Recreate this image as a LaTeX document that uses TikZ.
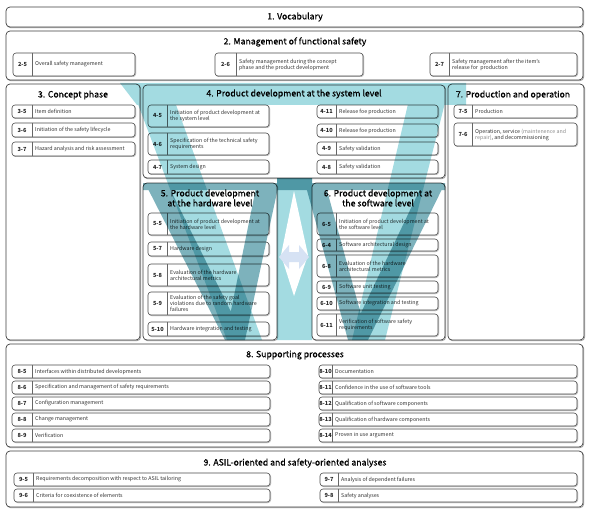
\documentclass[tikz,border=0pt]{standalone}
\usepackage{fontspec}
\setmainfont{Noto Sans CJK KR}
\newfontfamily\tfont[FakeBold=0.7]{Noto Sans CJK KR}
\definecolor{lteal}{RGB}{163,219,225}
\definecolor{dteal}{RGB}{125,178,188}
\definecolor{arrowblue}{RGB}{214,226,244}
\newcommand{\itembox}[8]{%
  \draw[subshadow] (#2+0.7,#3+0.7) rectangle (#4+0.7,#5+0.7);
  \draw[subframe] (#2,#3) rectangle (#4,#5);
  \draw[divline] (#6,#3) -- (#6,#5);
  \node[numlabel] (#1n) at ({(#2+#6)/2},{(#3+#5)/2}) {#7};
  \node[itemtext] (#1t) at ({#6+3},{(#3+#5)/2}) {#8};
}
\newcommand{\bigframe}[4]{%
  \draw[frameshadow] (#1+0.8,#2+0.8) rectangle (#3+0.8,#4+0.8);
  \draw[frame] (#1,#2) rectangle (#3,#4);
}
\begin{document}
\begin{tikzpicture}[x=1pt,y=-1pt,
  frame/.style={draw=black!75, line width=0.7pt, rounded corners=4pt, fill=white},
  frameshadow/.style={draw=black!40, line width=0.7pt, rounded corners=4pt},
  subframe/.style={draw=black!70, line width=0.6pt, rounded corners=3pt, fill=white},
  subshadow/.style={draw=black!35, line width=0.6pt, rounded corners=3pt},
  divline/.style={draw=black!60, line width=0.4pt},
  numlabel/.style={font=\fontsize{5.6}{6.5}\selectfont\bfseries, text=black!85, inner sep=0},
  itemtext/.style={font=\fontsize{5.3}{6}\selectfont, text=black!80, anchor=west, align=left, inner sep=0},
  title/.style={font=\tfont\fontsize{8.7}{10}\selectfont, text=black, inner sep=0, align=center}]
\useasboundingbox (0,0) rectangle (590,511);
\fill[white] (0,0) rectangle (590,511);
% 1
\bigframe{6}{7}{583}{27}
\node[title] (t1) at (295,17) {1. Vocabulary};
% 2
\bigframe{6}{31}{583}{80}
\node[title] (t2) at (295,42) {2. Management of functional safety};
\itembox{i25}{13}{53}{135}{76}{32}{2-5}{Overall safety management}
\itembox{i26}{215}{53}{363}{76}{236}{2-6}{Safety management during the concept\\phase and the product development}
\itembox{i27}{430}{53}{577}{76}{449}{2-7}{Safety management after the item's\\release for\ \ production}
% 3
\bigframe{6}{84}{140}{340}
\node[title] (t3) at (73,95) {3. Concept phase};
\itembox{i35}{12}{105}{135}{118}{32}{3-5}{Item definition}
\itembox{i36}{12}{123}{135}{137}{32}{3-6}{Initiation of the safety lifecycle}
\itembox{i37}{12}{142}{135}{156}{32}{3-7}{Hazard analysis and risk assessment}
% 4
\bigframe{143}{85}{445}{178}
\node[title] (t4) at (294,94) {4. Product development at the system level};
\itembox{i45}{148}{105}{269}{127}{167}{4-5}{Initiation of product development at\\the system level}
\itembox{i46}{148}{133}{269}{155}{167}{4-6}{Specification of the technical safety\\requirements}
\itembox{i47}{148}{160}{269}{174}{167}{4-7}{System design}
\itembox{i411}{317}{105}{438}{118}{336}{4-11}{Release foe production}
\itembox{i410}{317}{124}{438}{137}{336}{4-10}{Release foe production}
\itembox{i49}{317}{142}{438}{155}{336}{4-9}{Safety validation}
\itembox{i48}{317}{160}{438}{174}{336}{4-8}{Safety validation}
% 5
\bigframe{143}{183}{277}{340}
\node[title] (t5) at (210,198) {5. Product development\\at the hardware level};
\itembox{i55}{148}{213}{269}{235}{167}{5-5}{Initiation of product development at\\the hardware level}
\itembox{i57}{148}{242}{269}{256}{167}{5-7}{Hardware design}
\itembox{i58}{148}{264}{269}{286}{167}{5-8}{Evaluation of the hardware\\architectural metrics}
\itembox{i59}{148}{292}{269}{315}{167}{5-9}{Evaluation of the safety goal\\violations due to random hardware\\failures}
\itembox{i510}{148}{322}{269}{336}{167}{5-10}{Hardware integration and testing}
% 6
\bigframe{312}{183}{445}{340}
\node[title] (t6) at (378,198) {6. Product development at\\the software level};
\itembox{i65}{317}{213}{438}{235}{336}{6-5}{Initiation of product development at\\the software level}
\itembox{i64}{317}{239}{438}{251}{336}{6-4}{Software architectural design}
\itembox{i68}{317}{255}{438}{277}{336}{6-8}{Evaluation of the hardware\\architectural metrics}
\itembox{i69}{317}{281}{438}{293}{336}{6-9}{Software unit testing}
\itembox{i610}{317}{297}{438}{310}{336}{6-10}{Software integration and testing}
\itembox{i611}{317}{314}{438}{336}{336}{6-11}{Verification of software safety\\requirements}
% 7
\bigframe{448}{84}{584}{340}
\node[title] (t7) at (513,95) {7. Production and operation};
\itembox{i75}{454}{105}{577}{118}{472}{7-5}{Production}
\itembox{i76}{454}{123}{577}{146}{472}{7-6}{Operation, service {\color{black!45}(maintenence and}\\{\color{black!45}repair)}, and decommissioning}
% 8
\bigframe{6}{344}{583}{447}
\node[title] (t8) at (295,355) {8. Supporting processes};
\itembox{i85}{12}{365}{270}{378}{32}{8-5}{Interfaces within distributed developments}
\itembox{i86}{12}{381}{270}{394}{32}{8-6}{Specification and management of safety requirements}
\itembox{i87}{12}{397}{270}{410}{32}{8-7}{Configuration management}
\itembox{i88}{12}{413}{270}{426}{32}{8-8}{Change management}
\itembox{i89}{12}{429}{270}{442}{32}{8-9}{Verification}
\itembox{i810}{319}{365}{577}{378}{332}{8-10}{Documentation}
\itembox{i811}{319}{381}{577}{394}{332}{8-11}{Confidence in the use of software tools}
\itembox{i812}{319}{397}{577}{410}{332}{8-12}{Qualification of software components}
\itembox{i813}{319}{413}{577}{426}{332}{8-13}{Qualification of hardware components}
\itembox{i814}{319}{429}{577}{442}{332}{8-14}{Proven in use argument}
% 9
\bigframe{6}{451}{583}{507}
\node[title] (t9) at (295,463) {9. ASIL-oriented and safety-oriented analyses};
\itembox{i95}{14}{473}{270}{486}{33}{9-5}{Requirements decomposition with respect to ASIL tailoring}
\itembox{i96}{14}{489}{270}{502}{33}{9-6}{Criteria for coexistence of elements}
\itembox{i97}{320}{473}{577}{486}{338}{9-7}{Analysis of dependent failures}
\itembox{i98}{320}{489}{577}{502}{338}{9-8}{Safety analyses}
% V shapes (multiplied over the boxes)
\begin{scope}[blend mode=multiply]
\fill[lteal]
  (120,83) -- (466,83) -- (466,105) -- (137,105) -- cycle
  (130,83) -- (168,83) -- (262,340) -- (227,340) -- cycle
  (413,83) -- (450,83) -- (385,340) -- (352,340) -- cycle
  (277,178) rectangle (312,340);
\fill[dteal]
  (143,183) -- (445,183) -- (445,190) -- (143,190) -- cycle
  (145,183) -- (167,183) -- (245,340) -- (225,340) -- cycle
  (257,183) -- (279,183) -- (245,340) -- (225,340) -- cycle
  (305,183) -- (325,183) -- (368,340) -- (348,340) -- cycle
  (423,183) -- (445,183) -- (368,340) -- (348,340) -- cycle
  (277,178) -- (312,178) -- (312,190) -- (277,190) -- cycle;
\end{scope}
\fill[white] (294,191) -- (308,255) -- (294,296) -- (281,255) -- cycle;
\fill[arrowblue] (279,257) -- (289,245) -- (289,252) -- (299,252) -- (299,245) -- (309,257)
  -- (299,269) -- (299,262) -- (289,262) -- (289,269) -- cycle;
\end{tikzpicture}
\end{document}
